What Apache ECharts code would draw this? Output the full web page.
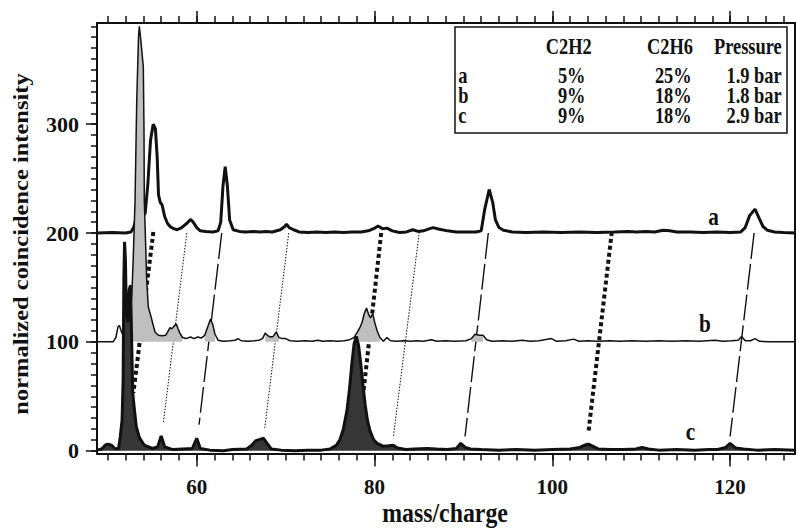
<!DOCTYPE html>
<html><head><meta charset="utf-8">
<script src="https://cdn.jsdelivr.net/npm/echarts@6/dist/echarts.min.js"></script>
<style>html,body{margin:0;padding:0;background:#fff}#c{width:796px;height:528px}</style>
</head><body><div id="c"></div>
<script>
// ---- data ----
const xTickLabels = [60, 80, 100, 120];
const yTickLabels = [0, 100, 200, 300];

// spectrum a (offset +200), thick line
const specA = [
[48.8,200],[50.5,200.5],[52.0,200],[52.6,201],[52.9,205],[53.1,211],[53.4,214],[53.8,216],[54.2,218],[54.5,245],[54.8,285],[55.1,300],[55.35,296],[55.55,270],[55.7,235],[55.9,228],[56.1,226],[56.4,215],[56.7,209],[57.0,206],[57.4,204],[57.8,203],[58.3,205],[58.9,209],[59.3,212.5],[59.6,210],[60.0,205],[60.4,202],[61.0,201.5],[61.8,201],[62.4,202],[62.7,210],[62.95,243],[63.2,261],[63.45,243],[63.7,212],[64.1,203],[64.8,201.5],[65.5,201],[66.3,201.5],[67.1,201],[67.8,201.5],[68.5,201],[69.4,203],[69.9,206],[70.1,208],[70.4,205],[70.9,203],[71.5,201],[72.5,200.5],[73.5,201],[74.5,200.5],[75.5,201],[76.5,200.5],[77.5,201],[78.5,201],[79.3,202],[79.9,204],[80.4,206.5],[80.9,204],[81.4,204.5],[82.0,202],[82.8,200.5],[83.6,201],[84.3,203],[84.9,201.5],[85.5,202],[86.2,204],[86.6,205],[87.3,203.5],[88.2,202],[89.2,201],[90.4,201],[91.4,201],[92.0,202],[92.4,222],[92.9,240],[93.3,228],[93.6,212],[94.0,205],[94.5,202.5],[95.5,201],[97,200.5],[99,201],[101,200.5],[103,201],[105,200.5],[107,201],[108.5,201.5],[109.5,201],[110.5,201.5],[111.5,201],[112.5,202.5],[113.2,202],[114,201],[115.5,201],[117,200.5],[118.5,201],[120,200.5],[121.2,201],[121.7,205],[122.2,216],[122.8,222],[123.3,213],[123.7,206],[124.2,202.5],[125,201],[126,200.5],[127.3,200]
];

// spectrum b (offset +100), thin line
const specB = [
[48.8,100],[50.6,100],[50.9,104],[51.15,114],[51.3,115],[51.5,110],[51.8,104],[52.2,108],[52.5,125],[52.7,144],[52.85,175],[53.06,230],[53.25,322],[53.45,380],[53.54,390],[53.7,378],[53.85,365],[53.99,353],[54.07,292],[54.1,230],[54.18,209],[54.37,157],[54.55,132],[54.86,123],[55.3,109],[55.68,106],[56.1,105.5],[56.5,106],[56.8,110],[56.99,113],[57.2,112],[57.4,114],[57.7,116.5],[57.9,112],[58.1,108],[58.4,104],[58.8,103],[59.3,104.5],[59.7,103],[60.1,104.5],[60.5,103.5],[60.9,106],[61.2,113],[61.55,121],[61.8,116],[62.05,107],[62.4,101.5],[63,100.5],[63.8,101],[64.3,101.5],[64.65,103],[65.0,101],[65.8,100.5],[66.5,101],[67.0,101.5],[67.4,103],[67.7,108],[67.95,106],[68.25,104.5],[68.6,105],[68.95,109],[69.25,104],[69.6,103],[70.0,103],[70.5,101],[71.3,100.5],[72.2,101],[73.0,100.5],[73.6,101.5],[74.2,100.5],[75.0,101],[75.8,100.5],[76.6,101],[77.2,102],[77.7,104],[78.0,108],[78.35,113],[78.6,118],[78.85,126],[79.1,131],[79.35,125],[79.55,122],[79.8,126],[80.05,117],[80.3,110],[80.6,104],[81.0,100.5],[81.4,104],[81.8,101],[82.5,100.5],[83.3,101],[84,100.5],[84.8,101],[85.5,100.5],[86.4,102],[87,100.5],[88,101],[89,100.5],[90.3,101],[90.9,103],[91.3,107],[91.8,106],[92.2,106],[92.6,102],[93.2,100.5],[94.5,101],[95.5,100.5],[96.6,101.5],[97.5,100.5],[98.5,101],[99.9,103],[100.5,100.5],[101.5,101],[102.4,102.5],[103,100.5],[104,101],[105,100.5],[106.5,101],[107.5,100.5],[109,101],[110.5,100.5],[112,101],[113.5,100.5],[115,101],[116.5,100.5],[118.3,101.5],[119.2,100.5],[120.2,101],[120.9,101.5],[121.3,105],[121.7,101],[122.3,101],[122.8,103],[123.3,100.5],[124.5,100],[127.3,100]
];
// x ranges of spectrum b shaded in light grey
const bShadeRanges = [[52.6,58.4],[60.9,62.3],[67.5,69.3],[77.8,80.8],[90.9,92.5]];

// spectrum c (no offset), thick line, dark fill
const specC = [
[48.8,0.5],[49.3,1.5],[49.7,5],[50.0,6],[50.4,5],[50.8,2],[51.2,1.5],[51.4,13],[51.6,28],[51.72,65],[51.8,157],[51.88,192],[51.98,175],[52.08,126],[52.25,118],[52.4,148],[52.55,152],[52.68,100],[52.8,53],[53.0,37],[53.2,22],[53.55,12],[54.1,5],[55.0,2],[55.6,3.5],[56.0,13.5],[56.4,3.5],[57.3,1],[59.5,2],[60.0,11.4],[60.4,2],[61.5,0.5],[63,0],[64,1],[65.6,1.5],[66.2,5],[66.6,9],[67.0,10],[67.5,11.5],[67.9,7],[68.4,1.5],[69.5,0.5],[71,0],[72.5,0.5],[74,0.5],[75.0,1.5],[75.7,5],[76.1,10],[76.5,20],[76.9,37],[77.2,58],[77.45,80],[77.7,98],[77.95,105],[78.2,97],[78.45,80],[78.7,60],[78.95,42],[79.2,28],[79.5,18],[79.9,10],[80.25,7],[81,4],[81.6,4.5],[82.1,5],[82.6,2.5],[83.5,1],[84.5,1.5],[85.9,2],[87,1.5],[88.2,1],[89.2,2],[89.7,6.8],[90.2,3],[90.8,1.5],[92,1],[94,0.5],[96,1],[98,0.5],[100,1],[102,1.5],[103.1,3],[103.6,5],[104.05,6],[104.6,4],[105.2,1.5],[106.5,1],[108,1],[109.4,1.5],[110.1,3],[110.8,1.5],[112,0.5],[114,1],[116,0.5],[117.6,1],[118.5,1],[119.5,3],[120.0,6.8],[120.6,2.5],[121.5,1.5],[123,0.5],[125,1],[127.3,0.5]
];

// guide lines linking peaks across spectra: [x1, y1, x2, y2, style]
const guides = [
[55.12,201,52.87,53,'heavy'],
[58.88,200,56.24,25.5,'dot'],
[62.81,200,60.26,24,'dash'],
[70.35,200,67.65,21,'dot'],
[80.75,200,78.74,53,'heavy'],
[85.04,201,82.12,13,'dot'],
[92.8,200,90.18,13,'dash'],
[106.69,201,104.05,16,'heavy'],
[122.7,200,120.0,13,'dash']
];

const seriesNames = ['a', 'b', 'c'];
const tableHeader = ['C2H2', 'C2H6', 'Pressure'];
const tableC2H2 = ['5%', '9%', '9%'];
const tableC2H6 = ['25%', '18%', '18%'];
const tablePressure = ['1.9 bar', '1.8 bar', '2.9 bar'];

// ---- chart ----
const X_MIN = 48.78, X_MAX = 127.3, Y_MIN = -2.6, Y_MAX = 393;
const INK = '#111';
const SERIF = '"Liberation Serif", "Times New Roman", serif';
const minorX = []; for (let v = 50; v <= 126; v += 2) minorX.push(v);
const minorY = []; for (let v = 0; v <= 390; v += 10) minorY.push(v);

const guideStyle = {
  heavy: {width: 4, type: [4, 3]},
  dot: {width: 1, type: [1.5, 1.5]},
  dash: {width: 1.4, type: [26, 5]}
};

function xAx(pos, ticks, len, labels, showLine) {
  return {
    type: 'value', position: pos, min: X_MIN, max: X_MAX,
    axisLine: {show: showLine, onZero: false, lineStyle: {color: INK, width: 2}},
    axisTick: {show: true, inside: false, length: len, customValues: ticks, lineStyle: {color: INK, width: 1.5}},
    axisLabel: labels ? {show: true, customValues: labels, margin: 23, color: INK,
      fontFamily: SERIF, fontWeight: 'bold', fontSize: 21, lineHeight: 21} : {show: false},
    splitLine: {show: false}
  };
}
function yAx(pos, ticks, len, labels, showLine) {
  return {
    type: 'value', position: pos, min: Y_MIN, max: Y_MAX,
    axisLine: {show: showLine, onZero: false, lineStyle: {color: INK, width: 2}},
    axisTick: ticks ? {show: true, inside: false, length: len, customValues: ticks, lineStyle: {color: INK, width: 1.5}} : {show: false},
    axisLabel: labels ? {show: true, customValues: labels, margin: 18, color: INK,
      fontFamily: SERIF, fontWeight: 'bold', fontSize: 22} : {show: false},
    splitLine: {show: false}
  };
}

const series = [];
guides.forEach(g => {
  const st = guideStyle[g[4]];
  series.push({type: 'line', data: [[g[0], g[1]], [g[2], g[3]]], symbol: 'none', silent: true,
    lineStyle: {color: INK, width: st.width, type: st.type, cap: 'butt'}, z: 1});
});
series.push({type: 'line', name: 'a', data: specA, symbol: 'none', lineStyle: {color: INK, width: 3}, z: 2});
bShadeRanges.forEach(r => {
  series.push({type: 'line', data: specB.filter(p => p[0] >= r[0] && p[0] <= r[1]), symbol: 'none',
    lineStyle: {width: 0, opacity: 0}, areaStyle: {color: '#bfbfbf', opacity: 1, origin: 100}, z: 3});
});
series.push({type: 'line', name: 'b', data: specB, symbol: 'none', lineStyle: {color: INK, width: 1.5}, z: 4});
series.push({type: 'line', name: 'c', data: specC, symbol: 'none', lineStyle: {color: INK, width: 3},
  areaStyle: {color: '#363636', opacity: 1, origin: 0}, z: 5});

function txt(s, x, y, align, size, sx, sy) {
  return {type: 'text', x: x, y: y, scaleX: sx || 1, scaleY: sy || 1, z: 100,
    style: {text: s, fill: INK, font: 'bold ' + size + 'px ' + SERIF,
      textAlign: align, textVerticalAlign: 'middle', align: align, verticalAlign: 'middle'}};
}

const graphics = [];
graphics.push({type: 'rect', shape: {x: 455, y: 27, width: 332, height: 106}, z: 90,
  style: {fill: '#fff', stroke: INK, lineWidth: 1.5}});
const TS = 23, TSX = 0.8;
const rowY = [75.6, 95.6, 115];
graphics.push(txt(tableHeader[0], 568.7, 46.6, 'center', TS, TSX));
graphics.push(txt(tableHeader[1], 670, 46.6, 'center', TS, TSX));
graphics.push(txt(tableHeader[2], 781.7, 46.6, 'right', TS, TSX));
for (let i = 0; i < 3; i++) {
  graphics.push(txt(seriesNames[i], 458.3, rowY[i], 'left', TS, TSX));
  graphics.push(txt(tableC2H2[i], 571.7, rowY[i], 'center', TS, TSX));
  graphics.push(txt(tableC2H6[i], 673.3, rowY[i], 'center', TS, TSX));
  graphics.push(txt(tablePressure[i], 781.7, rowY[i], 'right', TS, TSX));
}
// curve tags
graphics.push(txt(seriesNames[0], 713.5, 216.6, 'center', 25, 0.85));
graphics.push(txt(seriesNames[1], 705, 323.6, 'center', 25, 0.85));
graphics.push(txt(seriesNames[2], 690.5, 431.6, 'center', 25, 0.85));
// axis titles
graphics.push(txt('mass/charge', 445, 513, 'center', 26.5, 0.9));
const yt = txt('normalized coincidence intensity', 21, 244, 'center', 24.5, 1, 0.86);
yt.rotation = Math.PI / 2;
graphics.push(yt);

const chart = echarts.init(document.getElementById('c'), null, {renderer: 'svg'});
chart.setOption({
  animation: false,
  backgroundColor: '#fff',
  grid: {left: 97, right: 1, top: 23, bottom: 74.5, containLabel: false},
  xAxis: [
    xAx('bottom', xTickLabels, 13, xTickLabels, true),
    xAx('bottom', minorX, 7, null, false),
    xAx('top', xTickLabels, 12, null, true),
    xAx('top', minorX, 7, null, false)
  ],
  yAxis: [
    yAx('left', yTickLabels, 11, yTickLabels, true),
    yAx('left', minorY, 6, null, false),
    yAx('right', null, 0, null, true)
  ],
  series: series,
  graphic: graphics
});
</script></body></html>
